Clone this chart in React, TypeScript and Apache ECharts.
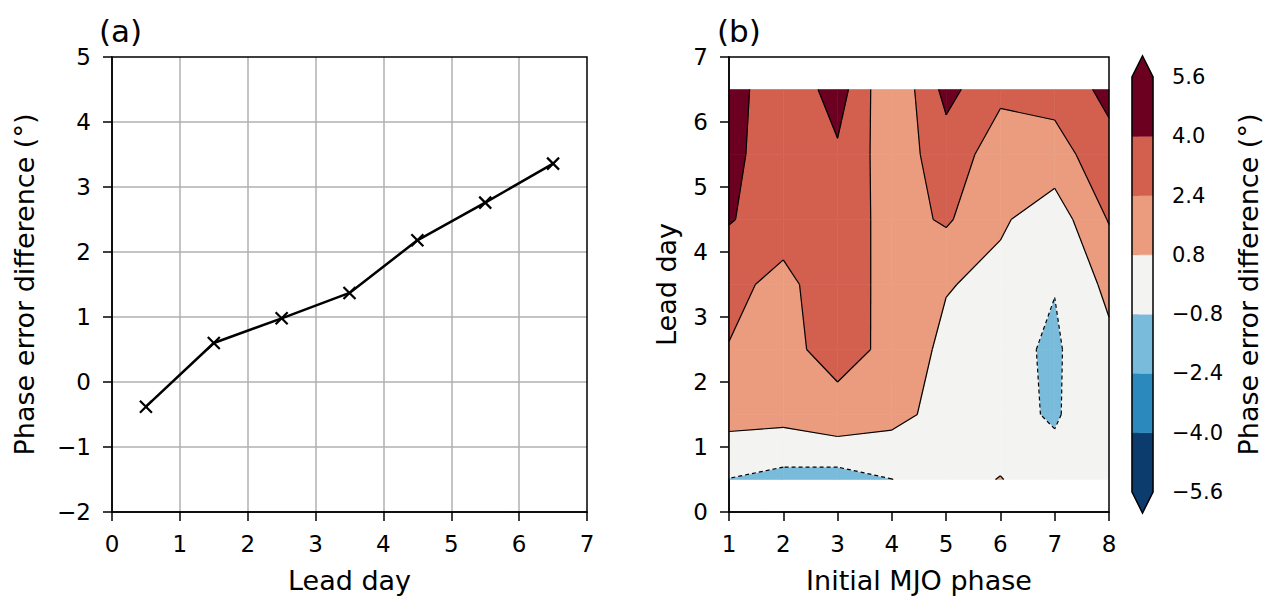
import React, { useEffect, useRef } from "react";
import * as echarts from "echarts";

const FONT = "DejaVu Sans";

// Panel (a)
const leadDays = [0.5, 1.5, 2.5, 3.5, 4.5, 5.5, 6.5];
const phaseErrDiff = [-0.38, 0.6, 0.98, 1.37, 2.18, 2.76, 3.36];

// Panel (b): grid of phase error difference, rows = lead day, columns = MJO phase 1..8
const mjoPhases = [1, 2, 3, 4, 5, 6, 7, 8];
const contourLeadDays = [0.5, 1.5, 2.5, 3.5, 4.5, 5.5, 6.5];
const lead0_5 = [-0.84, -1.3, -1.45, -0.82, 0.0, 0.88, -0.45, 0.0];
const lead1_5 = [1.38, 1.32, 1.95, 1.31, 0.22, -0.52, -0.9, -0.07];
const lead2_5 = [2.33, 2.06, 2.85, 2.11, 0.35, -0.41, -1.0, 0.4];
const lead3_5 = [2.9, 1.87, 3.64, 1.61, 0.91, 0.35, -0.75, 1.2];
const lead4_5 = [4.1, 3.27, 3.45, 1.73, 2.61, 1.01, -0.05, 2.5];
const lead5_5 = [4.45, 3.0, 3.74, 1.5, 3.22, 1.67, 1.72, 3.45];
const lead6_5 = [4.85, 2.61, 4.78, 0.88, 4.5, 2.7, 3.0, 4.43];
const errorGrid = [lead0_5, lead1_5, lead2_5, lead3_5, lead4_5, lead5_5, lead6_5];

const contourLevels = [-5.6, -4.0, -2.4, -0.8, 0.8, 2.4, 4.0, 5.6];
const levelLabels = ["−5.6", "−4.0", "−2.4", "−0.8", "0.8", "2.4", "4.0", "5.6"];
const bandColors = ["#0c3c6e", "#2c89be", "#78bbdb", "#f3f3f1", "#eb9c7e", "#d35f4f", "#6b0020"];
const extendLowColor = "#0a3566";
const extendHighColor = "#64001e";

type Pt = { x: number; y: number; v: number };

const bands = [
  { lo: -Infinity, hi: contourLevels[0], color: extendLowColor },
  ...bandColors.map((c, i) => ({ lo: contourLevels[i], hi: contourLevels[i + 1], color: c })),
  { lo: contourLevels[contourLevels.length - 1], hi: Infinity, color: extendHighColor },
];

function clip(poly: Pt[], level: number, keepAbove: boolean): Pt[] {
  const out: Pt[] = [];
  for (let k = 0; k < poly.length; k++) {
    const a = poly[k];
    const b = poly[(k + 1) % poly.length];
    const ain = keepAbove ? a.v >= level : a.v <= level;
    const bin = keepAbove ? b.v >= level : b.v <= level;
    if (ain) out.push(a);
    if (ain !== bin) {
      const t = (level - a.v) / (b.v - a.v);
      out.push({ x: a.x + t * (b.x - a.x), y: a.y + t * (b.y - a.y), v: level });
    }
  }
  return out;
}

function cellCorners(i: number, j: number): Pt[] {
  return [
    { x: mjoPhases[i], y: contourLeadDays[j], v: errorGrid[j][i] },
    { x: mjoPhases[i + 1], y: contourLeadDays[j], v: errorGrid[j][i + 1] },
    { x: mjoPhases[i + 1], y: contourLeadDays[j + 1], v: errorGrid[j + 1][i + 1] },
    { x: mjoPhases[i], y: contourLeadDays[j + 1], v: errorGrid[j + 1][i] },
  ];
}

const cellData: number[][] = [];
for (let j = 0; j < contourLeadDays.length - 1; j++) {
  for (let i = 0; i < mjoPhases.length - 1; i++) {
    cellData.push([mjoPhases[i], contourLeadDays[j], i, j]);
  }
}

function renderFill(params: any, api: any) {
  const i = api.value(2);
  const j = api.value(3);
  const corners = cellCorners(i, j);
  const children: any[] = [];
  bands.forEach((band) => {
    let poly = clip(corners, band.lo, true);
    if (poly.length >= 3) poly = clip(poly, band.hi, false);
    if (poly.length >= 3) {
      children.push({
        type: "polygon",
        shape: { points: poly.map((p) => api.coord([p.x, p.y])) },
        style: { fill: band.color, stroke: band.color, lineWidth: 0.6 },
      });
    }
  });
  return { type: "group", children };
}

function renderLines(params: any, api: any) {
  const i = api.value(2);
  const j = api.value(3);
  const c = cellCorners(i, j);
  const children: any[] = [];
  contourLevels.forEach((L) => {
    const pts: { k: number; x: number; y: number }[] = [];
    for (let k = 0; k < 4; k++) {
      const a = c[k];
      const b = c[(k + 1) % 4];
      if ((a.v - L) * (b.v - L) < 0) {
        const t = (L - a.v) / (b.v - a.v);
        pts.push({ k, x: a.x + t * (b.x - a.x), y: a.y + t * (b.y - a.y) });
      }
    }
    const segs: any[][] = [];
    if (pts.length === 2) segs.push([pts[0], pts[1]]);
    else if (pts.length === 4) {
      const center = (c[0].v + c[1].v + c[2].v + c[3].v) / 4;
      const sameAsC0 = (center - L) * (c[0].v - L) > 0;
      if (sameAsC0) {
        segs.push([pts[0], pts[1]]);
        segs.push([pts[2], pts[3]]);
      } else {
        segs.push([pts[3], pts[0]]);
        segs.push([pts[1], pts[2]]);
      }
    }
    segs.forEach((s) => {
      const p1 = api.coord([s[0].x, s[0].y]);
      const p2 = api.coord([s[1].x, s[1].y]);
      children.push({
        type: "line",
        shape: { x1: p1[0], y1: p1[1], x2: p2[0], y2: p2[1] },
        style: { stroke: "#000", lineWidth: 1.2, lineDash: L < 0 ? [4, 3] : null },
      });
    });
  });
  return { type: "group", children };
}

const EXT = 0.354;

function renderColorbarBand(params: any, api: any) {
  const k = api.value(1);
  const p0 = api.coord([0, k]);
  const p1 = api.coord([1, k + 1]);
  return {
    type: "rect",
    shape: { x: p0[0], y: p1[1], width: p1[0] - p0[0], height: p0[1] - p1[1] },
    style: { fill: bandColors[k], stroke: bandColors[k], lineWidth: 0.5 },
  };
}

function renderColorbarExt(params: any, api: any) {
  const n = bandColors.length;
  const low = [api.coord([0, 0]), api.coord([1, 0]), api.coord([0.5, -EXT])];
  const high = [api.coord([0, n]), api.coord([1, n]), api.coord([0.5, n + EXT])];
  const outline = [
    api.coord([0, 0]),
    api.coord([0.5, -EXT]),
    api.coord([1, 0]),
    api.coord([1, n]),
    api.coord([0.5, n + EXT]),
    api.coord([0, n]),
  ];
  return {
    type: "group",
    children: [
      { type: "polygon", shape: { points: low }, style: { fill: bandColors[0], stroke: bandColors[0], lineWidth: 0.5 } },
      { type: "polygon", shape: { points: high }, style: { fill: bandColors[n - 1], stroke: bandColors[n - 1], lineWidth: 0.5 } },
      { type: "polygon", shape: { points: outline }, style: { fill: "none", stroke: "#000", lineWidth: 1.5 } },
    ],
  };
}

const minusFmt = (v: number) => (v < 0 ? "−" + Math.abs(v) : String(v));

const TICK_FS = 23;
const NAME_FS = 27;
const labelStyle = { color: "#000", fontSize: TICK_FS, fontFamily: FONT };
const nameStyle = { color: "#000", fontSize: NAME_FS, fontFamily: FONT };
const axisLineStyle = { show: true, onZero: false, lineStyle: { color: "#000", width: 1.5 } };
const tickStyle = { show: true, inside: false, length: 9, lineStyle: { color: "#000", width: 1.5 } };

export default function App() {
  const ref = useRef<HTMLDivElement>(null);
  useEffect(() => {
    if (!ref.current) return;
    const chart = echarts.init(ref.current, null, { renderer: "svg" });
    const titleStyle = { color: "#000", fontFamily: FONT, fontSize: 31, fontWeight: "normal" };
    const option: any = {
      animation: false,
      backgroundColor: "#fff",
      title: [
        { text: "(a)", left: 99, top: 15, padding: 0, textStyle: titleStyle },
        { text: "(b)", left: 717, top: 15, padding: 0, textStyle: titleStyle },
      ],
      grid: [
        { left: 112, top: 57, width: 475, height: 455, outerBoundsMode: "none", containLabel: false, show: true, borderColor: "#000", borderWidth: 1.5, backgroundColor: "transparent", z: 5 },
        { left: 729, top: 57, width: 380, height: 455, outerBoundsMode: "none", containLabel: false, show: true, borderColor: "#000", borderWidth: 1.5, backgroundColor: "transparent", z: 5 },
        { left: 1132, top: 77, width: 21, height: 415, outerBoundsMode: "none", containLabel: false },
      ],
      xAxis: [
        {
          gridIndex: 0, type: "value", min: 0, max: 7, interval: 1,
          name: "Lead day", nameLocation: "middle", nameGap: 55, nameTextStyle: nameStyle,
          axisLine: axisLineStyle, axisTick: tickStyle,
          axisLabel: { ...labelStyle, margin: 20, formatter: minusFmt },
          splitLine: { show: true, showMinLine: false, showMaxLine: false, lineStyle: { color: "#b0b0b0", width: 1.5 } },
        },
        {
          gridIndex: 1, type: "value", min: 1, max: 8, interval: 1,
          name: "Initial MJO phase", nameLocation: "middle", nameGap: 55, nameTextStyle: nameStyle,
          axisLine: axisLineStyle, axisTick: tickStyle,
          axisLabel: { ...labelStyle, margin: 20 },
          splitLine: { show: false },
        },
        { gridIndex: 2, type: "value", min: 0, max: 1, show: false },
      ],
      yAxis: [
        {
          gridIndex: 0, type: "value", min: -2, max: 5, interval: 1,
          name: "Phase error difference (°)", nameLocation: "middle", nameGap: 74, nameTextStyle: nameStyle,
          axisLine: axisLineStyle, axisTick: tickStyle,
          axisLabel: { ...labelStyle, margin: 21, formatter: minusFmt },
          splitLine: { show: true, showMinLine: false, showMaxLine: false, lineStyle: { color: "#b0b0b0", width: 1.5 } },
        },
        {
          gridIndex: 1, type: "value", min: 0, max: 7, interval: 1,
          name: "Lead day", nameLocation: "middle", nameGap: 49, nameTextStyle: nameStyle,
          axisLine: axisLineStyle, axisTick: tickStyle,
          axisLabel: { ...labelStyle, margin: 21 },
          splitLine: { show: false },
        },
        {
          gridIndex: 2, type: "value", min: 0, max: 7, interval: 1, position: "right",
          name: "Phase error difference (°)", nameLocation: "middle", nameGap: 82, nameRotate: 90, nameTextStyle: nameStyle,
          axisLine: { show: false },
          axisTick: { show: true, inside: false, length: 7, lineStyle: { color: "#000", width: 1.5 } },
          axisLabel: { color: "#000", fontFamily: FONT, fontSize: 21, margin: 19, formatter: (v: number) => levelLabels[v] ?? "" },
          splitLine: { show: false },
        },
      ],
      series: [
        {
          type: "line", xAxisIndex: 0, yAxisIndex: 0,
          data: leadDays.map((d, i) => [d, phaseErrDiff[i]]),
          symbol: "path://M0,0L10,10M10,0L0,10", symbolSize: 12, showSymbol: true,
          itemStyle: { color: "#000", borderColor: "#000", borderWidth: 2.2 },
          lineStyle: { color: "#000", width: 2.5 },
          z: 3,
        },
        {
          type: "custom", xAxisIndex: 1, yAxisIndex: 1, data: cellData,
          renderItem: renderFill, z: 1, silent: true,
        },
        {
          type: "custom", xAxisIndex: 1, yAxisIndex: 1, data: cellData,
          renderItem: renderLines, z: 2, silent: true,
        },
        {
          type: "custom", xAxisIndex: 2, yAxisIndex: 2,
          data: bandColors.map((_, k) => [0.5, k]),
          renderItem: renderColorbarBand, z: 1, silent: true,
        },
        {
          type: "custom", xAxisIndex: 2, yAxisIndex: 2,
          data: [[0.5, 3.5]],
          renderItem: renderColorbarExt, z: 2, silent: true,
        },
      ],
    };
    chart.setOption(option);
    return () => chart.dispose();
  }, []);
  return (
    <div
      ref={ref}
      style={{ position: "fixed", left: 0, top: 0, width: 1263, height: 596, background: "#fff" }}
    />
  );
}
